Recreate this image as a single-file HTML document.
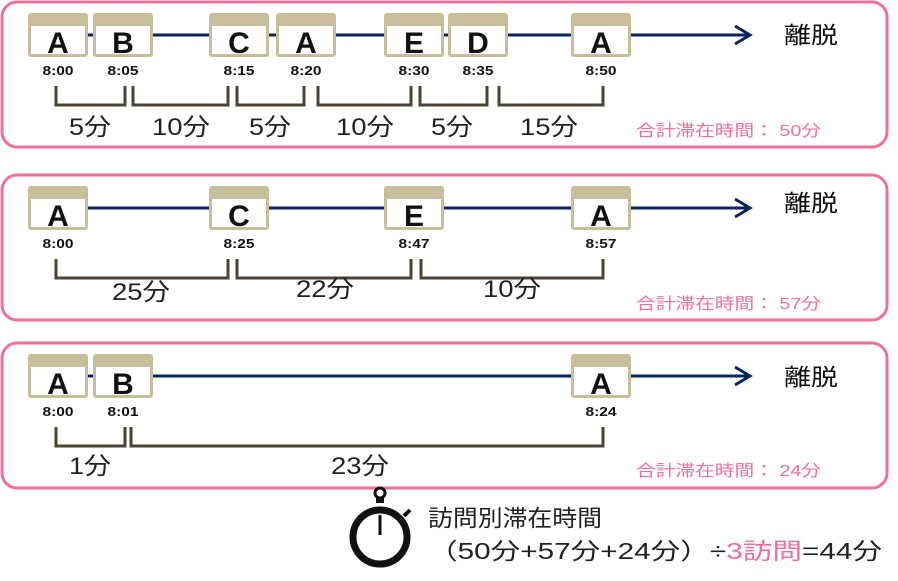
<!DOCTYPE html>
<html><head><meta charset="utf-8"><style>
body{margin:0;background:#fff}
svg{display:block}
text{font-family:"Liberation Sans","Noto Sans CJK JP",sans-serif}
.L{font-weight:bold;font-size:30px;text-anchor:middle;fill:#111}
.T{font-weight:bold;font-size:13px;text-anchor:middle;fill:#111}
.M{font-size:24px;text-anchor:middle;fill:#222}
.P{font-size:16px;fill:#f07098}
.R{font-size:23px;fill:#111}
</style></head><body>
<svg width="898" height="581" viewBox="0 0 898 581">
<defs>
<g id="box"><rect x="0" y="0" width="60" height="44" rx="3" fill="#c8bf9a"/><rect x="3" y="13" width="54" height="28" fill="#fff"/></g>
</defs>
<g fill="none" stroke="#f07098" stroke-width="3">
<rect x="2" y="2" width="885" height="145" rx="15"/>
<rect x="2" y="175" width="885" height="145" rx="15"/>
<rect x="2" y="343" width="885" height="145" rx="15"/>
</g>
<g stroke="#0a2460" stroke-width="3" fill="none">
<line x1="88" y1="35" x2="750" y2="35"/><polyline points="735,26 750,35 735,44"/>
<line x1="88" y1="208" x2="750" y2="208"/><polyline points="735,199 750,208 735,217"/>
<line x1="88" y1="376" x2="750" y2="376"/><polyline points="735,367 750,376 735,385"/>
</g>
<g transform="translate(0,13)">
<use href="#box" x="28"/><use href="#box" x="93"/><use href="#box" x="209"/><use href="#box" x="276"/><use href="#box" x="384"/><use href="#box" x="448"/><use href="#box" x="571"/>
<text class="L" x="58" y="40">A</text><text class="L" x="123" y="40">B</text><text class="L" x="239" y="40">C</text><text class="L" x="306" y="40">A</text><text class="L" x="414" y="40">E</text><text class="L" x="478" y="40">D</text><text class="L" x="601" y="40">A</text>
<text class="T" x="58" y="62" textLength="31" lengthAdjust="spacingAndGlyphs">8:00</text><text class="T" x="123" y="62" textLength="31" lengthAdjust="spacingAndGlyphs">8:05</text><text class="T" x="239" y="62" textLength="31" lengthAdjust="spacingAndGlyphs">8:15</text><text class="T" x="306" y="62" textLength="31" lengthAdjust="spacingAndGlyphs">8:20</text><text class="T" x="414" y="62" textLength="31" lengthAdjust="spacingAndGlyphs">8:30</text><text class="T" x="478" y="62" textLength="31" lengthAdjust="spacingAndGlyphs">8:35</text><text class="T" x="601" y="62" textLength="31" lengthAdjust="spacingAndGlyphs">8:50</text>
</g>
<g fill="none" stroke="#4a4530" stroke-width="3">
<polyline points="56,86 56,105 125,105 125,86"/><polyline points="133,86 133,105 228,105 228,86"/><polyline points="237,86 237,105 304,105 304,86"/><polyline points="318,86 318,105 411,105 411,86"/><polyline points="420,86 420,105 487,105 487,86"/><polyline points="499,86 499,105 603,105 603,86"/>
<polyline points="56,259 56,278 228,278 228,259"/><polyline points="237,259 237,278 411,278 411,259"/><polyline points="421,259 421,278 603,278 603,259"/>
<polyline points="56,427 56,446 125,446 125,427"/><polyline points="131,427 131,446 603,446 603,427"/>
</g>
<text class="M" x="90" y="135" textLength="42" lengthAdjust="spacingAndGlyphs">5分</text><text class="M" x="181" y="135" textLength="58" lengthAdjust="spacingAndGlyphs">10分</text><text class="M" x="270" y="135" textLength="42" lengthAdjust="spacingAndGlyphs">5分</text><text class="M" x="365" y="135" textLength="58" lengthAdjust="spacingAndGlyphs">10分</text><text class="M" x="452" y="135" textLength="42" lengthAdjust="spacingAndGlyphs">5分</text><text class="M" x="549" y="135" textLength="58" lengthAdjust="spacingAndGlyphs">15分</text>
<text class="R" x="784" y="43" textLength="54" lengthAdjust="spacingAndGlyphs">離脱</text>
<text class="P" x="636" y="136" textLength="185" lengthAdjust="spacingAndGlyphs">合計滞在時間：  50分</text>
<g transform="translate(0,186)">
<use href="#box" x="28"/><use href="#box" x="209"/><use href="#box" x="384"/><use href="#box" x="571"/>
<text class="L" x="58" y="40">A</text><text class="L" x="239" y="40">C</text><text class="L" x="414" y="40">E</text><text class="L" x="601" y="40">A</text>
<text class="T" x="58" y="62" textLength="31" lengthAdjust="spacingAndGlyphs">8:00</text><text class="T" x="239" y="62" textLength="31" lengthAdjust="spacingAndGlyphs">8:25</text><text class="T" x="414" y="62" textLength="31" lengthAdjust="spacingAndGlyphs">8:47</text><text class="T" x="601" y="62" textLength="31" lengthAdjust="spacingAndGlyphs">8:57</text>
</g>
<text class="M" x="141" y="300" textLength="58" lengthAdjust="spacingAndGlyphs">25分</text><text class="M" x="325" y="297" textLength="58" lengthAdjust="spacingAndGlyphs">22分</text><text class="M" x="512" y="297" textLength="58" lengthAdjust="spacingAndGlyphs">10分</text>
<text class="R" x="784" y="211" textLength="54" lengthAdjust="spacingAndGlyphs">離脱</text>
<text class="P" x="636" y="309" textLength="185" lengthAdjust="spacingAndGlyphs">合計滞在時間：  57分</text>
<g transform="translate(0,354)">
<use href="#box" x="28"/><use href="#box" x="93"/><use href="#box" x="571"/>
<text class="L" x="58" y="40">A</text><text class="L" x="123" y="40">B</text><text class="L" x="601" y="40">A</text>
<text class="T" x="58" y="62" textLength="31" lengthAdjust="spacingAndGlyphs">8:00</text><text class="T" x="123" y="62" textLength="31" lengthAdjust="spacingAndGlyphs">8:01</text><text class="T" x="601" y="62" textLength="31" lengthAdjust="spacingAndGlyphs">8:24</text>
</g>
<text class="M" x="90" y="474" textLength="42" lengthAdjust="spacingAndGlyphs">1分</text><text class="M" x="360" y="474" textLength="58" lengthAdjust="spacingAndGlyphs">23分</text>
<text class="R" x="784" y="385" textLength="54" lengthAdjust="spacingAndGlyphs">離脱</text>
<text class="P" x="636" y="476" textLength="185" lengthAdjust="spacingAndGlyphs">合計滞在時間：  24分</text>
<circle cx="380" cy="493" r="5" fill="none" stroke="#111" stroke-width="3"/>
<rect x="376" y="497" width="8" height="6" fill="#111"/>
<line x1="404" y1="516" x2="410" y2="510" stroke="#111" stroke-width="4"/>
<circle cx="380" cy="537" r="27" fill="none" stroke="#111" stroke-width="7"/>
<line x1="380" y1="515" x2="380" y2="535" stroke="#111" stroke-width="3"/>
<text class="R" x="428" y="526" style="fill:#222" textLength="174" lengthAdjust="spacingAndGlyphs">訪問別滞在時間</text>
<text class="R" x="428" y="559" style="fill:#222" textLength="454" lengthAdjust="spacingAndGlyphs">（50分+57分+24分）÷<tspan fill="#f07098">3訪問</tspan>=44分</text>
</svg>
</body></html>
